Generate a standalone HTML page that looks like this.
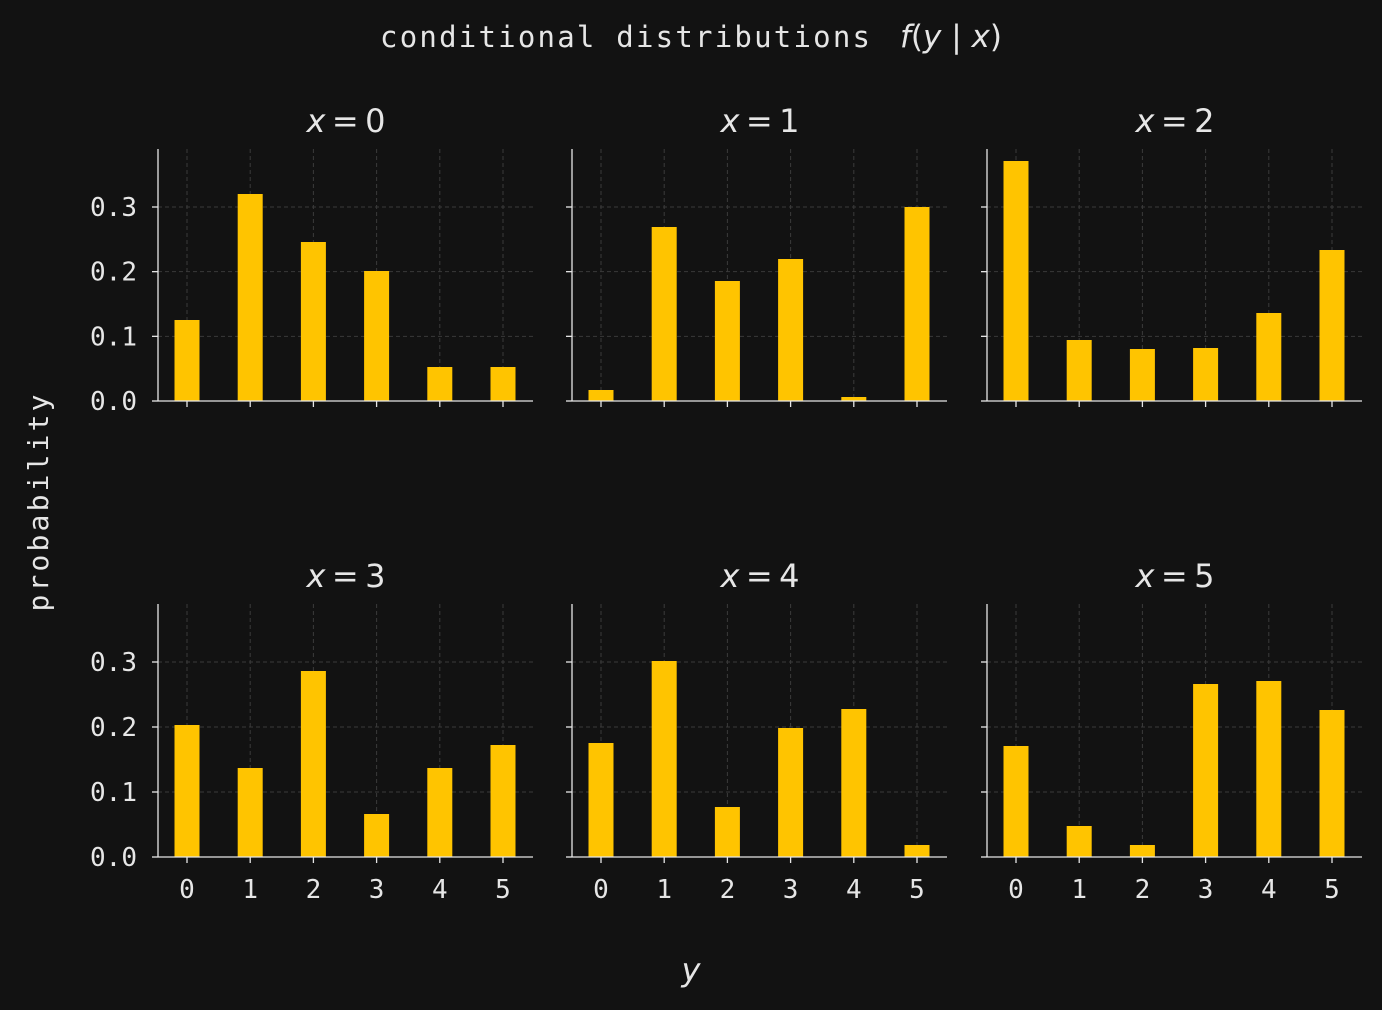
<!DOCTYPE html>
<html><head><meta charset="utf-8"><style>
html,body{margin:0;padding:0;background:#121212;}
svg{display:block}
text{fill:#e6e6e6;}
.t{font-family:"DejaVu Sans Mono","Liberation Mono",monospace;font-size:26px;}
.m{font-family:"DejaVu Sans","Liberation Sans",sans-serif;font-size:32px;}
</style></head><body>
<svg width="1382" height="1010" viewBox="0 0 1382 1010" xmlns="http://www.w3.org/2000/svg">
<rect width="1382" height="1010" fill="#121212"/>
<text class="t" x="380" y="47" style="font-size:29px" textLength="490" lengthAdjust="spacing">conditional distributions</text>
<text class="m" x="900" y="47" style="font-size:31px"><tspan font-style="italic">f</tspan>(<tspan font-style="italic">y</tspan> | <tspan font-style="italic">x</tspan>)</text>
<text class="t" transform="translate(48,503) rotate(-90)" text-anchor="middle" style="font-size:28px" textLength="217" lengthAdjust="spacing">probability</text>
<text class="m" x="691" y="981" text-anchor="middle" font-style="italic">y</text>
<g id="panels"></g>
</svg>
<script>
const NS="http://www.w3.org/2000/svg";
const g=document.getElementById("panels");
function el(n,a,t){const e=document.createElementNS(NS,n);for(const k in a)e.setAttribute(k,a[k]);if(t!==undefined)e.textContent=t;g.appendChild(e);return e;}
const lefts=[158,572,987];
const rows=[{base:401,top:149,tops:[[320,194,242,271,367,367],[390,227,281,259,397,207],[161,340,349,348,313,250]]},
{base:857,top:604,tops:[[725,768,671,814,768,745],[743,661,807,728,709,845],[746,826,845,684,681,710]]}];
rows.forEach((r,ri)=>{
 const step=(r.base-(ri?662:207))/3;
 lefts.forEach((L,pi)=>{
  const R=L+375, x0=L+29, dx=63.2;
  for(let i=1;i<=3;i++){const y=r.base-step*i;el("line",{x1:L,x2:R,y1:y,y2:y,stroke:"#3a3a3a","stroke-dasharray":"4,3","stroke-width":1});}
  for(let j=0;j<6;j++){const x=x0+dx*j;el("line",{x1:x,x2:x,y1:r.top,y2:r.base,stroke:"#3a3a3a","stroke-dasharray":"4,3","stroke-width":1});}
  r.tops[pi].forEach((ty,j)=>{const x=x0+dx*j;el("rect",{x:x-12.5,y:ty,width:25,height:r.base-ty,fill:"#ffc400"});});
  el("line",{x1:L,x2:L,y1:r.top,y2:r.base,stroke:"#e6e6e6","stroke-width":1.3});
  el("line",{x1:L,x2:R,y1:r.base,y2:r.base,stroke:"#e6e6e6","stroke-width":1.3});
  for(let i=0;i<=3;i++){const y=r.base-step*i;el("line",{x1:L-6,x2:L,y1:y,y2:y,stroke:"#e6e6e6","stroke-width":1.3});
   if(pi==0)el("text",{class:"t",x:L-21,y:y+9,"text-anchor":"end",textLength:"47",lengthAdjust:"spacing"},(i/10).toFixed(1));}
  for(let j=0;j<6;j++){const x=x0+dx*j;el("line",{x1:x,x2:x,y1:r.base,y2:r.base+6,stroke:"#e6e6e6","stroke-width":1.3});
   if(ri==1)el("text",{class:"t",x:x,y:r.base+41,"text-anchor":"middle"},String(j));}
  const t=el("text",{class:"m",x:L+188,y:r.top-17,"text-anchor":"middle"});
  t.innerHTML='<tspan font-style="italic">x</tspan>\u2009=\u2009'+(ri*3+pi);
 });
});
</script>
</body></html>
